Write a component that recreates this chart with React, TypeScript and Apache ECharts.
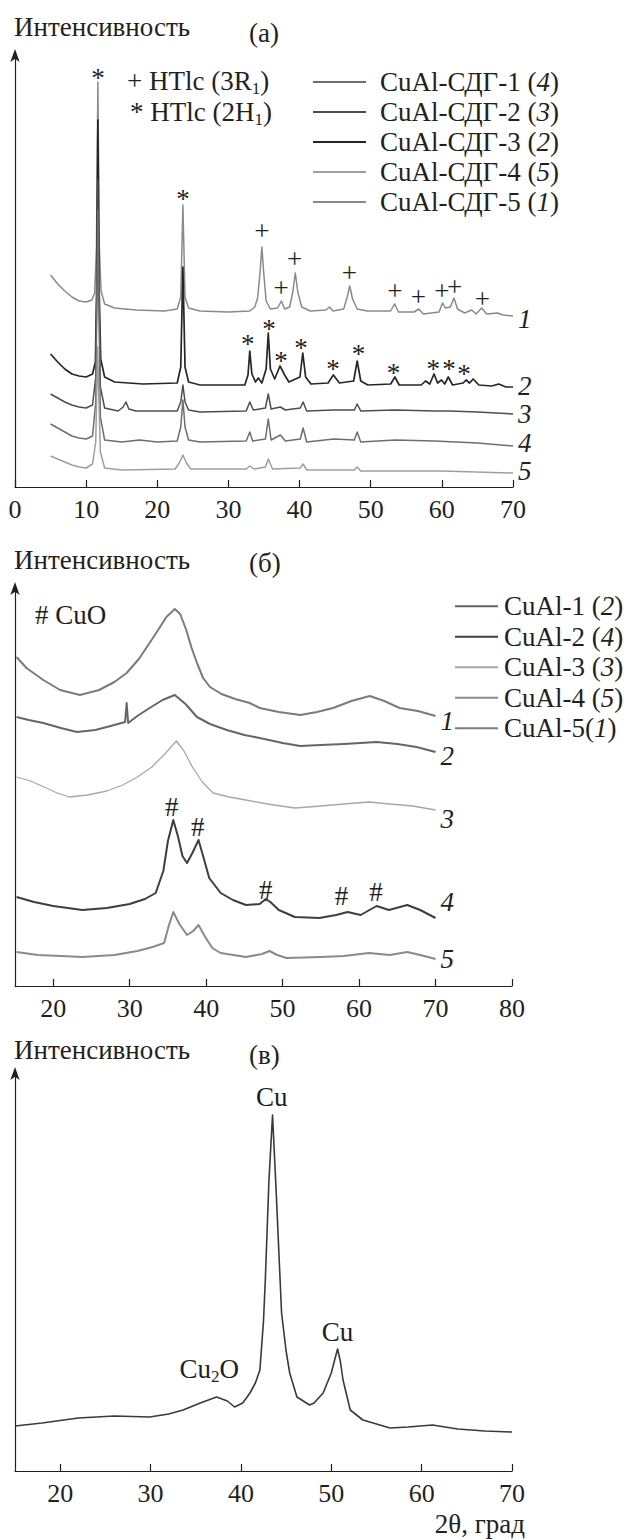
import React, { useEffect, useRef } from "react";
import * as echarts from "echarts";

const FONT = "'Liberation Serif', 'Times New Roman', serif";
const INK = "#231f20";

// ---------- Panel (a): CuAl-СДГ, 2θ vs intensity ----------
const aTicks = [0, 10, 20, 30, 40, 50, 60, 70];
const aCurve1: number[][] = [[5,212],[6,203],[7,196],[8,190],[9,186],[10,185],[10.8,187],[11.2,194],[11.45,240],[11.65,405],[11.85,240],[12.1,196],[12.6,183],[14,179],[17,177],[21,176],[22.8,178],[23.3,190],[23.6,282],[23.9,190],[24.4,179],[26,176],[30,175],[33,176],[33.7,180],[34.1,189],[34.45,215],[34.7,240],[34.95,215],[35.3,186],[35.9,178],[36.9,179],[37.45,186],[37.9,178],[38.6,180],[39.05,195],[39.4,214],[39.75,195],[40.3,180],[41.5,176],[43.7,177],[44.2,180],[44.7,176],[46.2,178],[46.7,190],[47.05,201],[47.45,188],[48.1,178],[49.5,176],[52.8,176],[53.35,183],[53.9,175],[56.1,175],[56.75,178],[57.4,173],[59.6,175],[60.1,184],[60.5,179],[61.2,180],[61.7,189],[62.2,178],[63.2,174],[64.2,177],[64.8,173],[65.6,179],[66.3,173],[67.8,174],[68.6,172],[70,171]];
const aCurve2: number[][] = [[5,133],[6,125],[7,118],[8,113],[9,111],[10,110],[10.9,113],[11.3,125],[11.48,200],[11.65,367],[11.82,200],[12.05,128],[12.6,110],[14,105],[18,103],[22.8,104],[23.3,120],[23.6,220],[23.9,120],[24.4,105],[26,102],[32.3,102],[32.75,112],[33.0,136],[33.3,113],[33.8,105],[34.2,109],[34.7,104],[35.3,118],[35.6,154],[35.9,118],[36.5,108],[37.25,121],[37.9,112],[38.5,105],[40.05,110],[40.45,134],[40.85,110],[41.6,103],[44.0,104],[44.75,112],[45.6,104],[47.6,106],[48.1,126],[48.6,106],[49.6,102],[52.8,103],[53.4,110],[54,102],[57.1,102],[57.7,106],[58.3,103],[58.9,113],[59.4,104],[59.95,107],[60.4,103],[60.9,110],[61.5,102],[63.0,104],[63.4,107],[63.9,104],[64.4,108],[65.2,102],[67,101],[68,103],[69,100],[70,100]];
const aCurve3: number[][] = [[5,93],[6,89],[7,85],[8,82],[9,80],[10,79],[10.9,82],[11.35,110],[11.5,200],[11.65,307],[11.8,200],[12.0,100],[12.6,79],[14.5,76],[15.2,80],[15.6,85],[16.0,78],[17,76],[22.8,76],[23.3,85],[23.6,102],[23.9,85],[24.4,77],[26,75],[32.5,76],[33.0,85],[33.5,77],[35.2,79],[35.6,93],[36.0,78],[37.3,80],[38,77],[40.1,79],[40.5,85],[41,76],[44.8,77],[47.7,77],[48.1,83],[48.6,76],[53.4,77],[59,76],[61,76],[65,75],[70,73]];
const aCurve4: number[][] = [[5,63],[6,59],[7,55],[8,51],[9,49],[10,48],[10.9,51],[11.35,85],[11.5,180],[11.65,277],[11.8,180],[12.0,70],[12.6,47],[15,45],[17.5,47],[20,45],[22.8,46],[23.3,60],[23.6,87],[23.9,60],[24.4,47],[26,45],[32.5,46],[33.0,55],[33.4,46],[35.2,48],[35.6,68],[36.0,47],[37.3,52],[38,46],[40.1,48],[40.5,59],[41,45],[44.8,48],[47.7,47],[48.1,55],[48.6,45],[53.4,47],[59,46],[65,44],[70,41]];
const aCurve5: number[][] = [[5,31],[6,28],[7,25],[8,22],[9,20],[10,19],[10.9,23],[11.35,45],[11.5,100],[11.62,140],[11.75,100],[12.0,35],[12.6,19],[15,17],[22.5,18],[23.1,24],[23.6,32],[24.1,24],[24.7,18],[32.5,18],[33.0,21],[33.6,18],[35.2,20],[35.6,28],[36.2,18],[40.1,19],[40.5,23],[41,17],[47.7,17],[48.1,20],[48.6,16],[60,16],[70,14]];
const aNames = ["CuAl-СДГ-5 (1)", "CuAl-СДГ-3 (2)", "CuAl-СДГ-2 (3)", "CuAl-СДГ-1 (4)", "CuAl-СДГ-4 (5)"];
const aLegendOrder = ["CuAl-СДГ-1 (4)", "CuAl-СДГ-2 (3)", "CuAl-СДГ-3 (2)", "CuAl-СДГ-4 (5)", "CuAl-СДГ-5 (1)"];
const aCurveLabels = ["1", "2", "3", "4", "5"];
const aPlusMarks: number[][] = [[34.7,254],[37.4,197],[39.3,226],[47.0,212],[53.4,194],[56.7,188],[60.0,194],[61.8,198],[65.7,186]];
const aStarMarks: number[][] = [[11.65,415],[23.6,294],[32.7,149],[35.7,164],[37.4,132],[40.2,145],[44.7,124],[48.3,139],[53.2,120],[58.8,124],[61.0,124],[63.1,119]];

// ---------- Panel (б): CuAl ----------
const bTicks = [20, 30, 40, 50, 60, 70, 80];
const bCurve1: number[][] = [[15.2,329],[16.5,318],[18.7,306],[20.9,296],[23.5,291],[26,296],[28,304],[29.6,313],[31.2,327],[32.6,343],[33.8,357],[34.8,369],[35.9,377],[36.6,372],[37.4,356],[38.1,338],[38.8,323],[39.6,308],[40.5,299],[42,292],[43.8,287],[45.7,283],[47.0,278],[49.5,274],[52.3,271],[54.5,274],[56.6,278],[59,285],[61.4,290],[63.3,285],[65.3,278],[67.7,275],[70,270]];
const bCurve2: number[][] = [[15.2,269],[16.8,266],[18.7,263],[21,258],[23.1,254],[25.5,256],[27.5,260],[29.4,264],[29.6,283],[29.8,263],[31,270],[32.6,278],[34.3,286],[35.9,291],[37.3,282],[38.8,269],[40.5,262],[42.7,256],[45,251],[47,248],[50,243],[52.3,240],[55,241],[58,242],[62.3,244],[65,242],[67.5,239],[70,234]];
const bCurve3: number[][] = [[15.2,209],[17,205],[18.8,199],[20.5,193],[22.1,189],[24.5,191],[27,195],[29.1,201],[31,209],[32.9,219],[34.6,232],[36.1,245],[37.1,235],[38.2,219],[39.5,204],[40.9,193],[43,189],[45.2,186],[48,182],[51.6,178],[55,180],[58,182],[61.3,184],[64,182],[67,180],[70,176]];
const bCurve4: number[][] = [[15.2,89],[17.5,84],[20,80],[23.8,76],[27,78],[30,82],[32,87],[33.4,93],[34.4,115],[35.0,145],[35.7,166],[36.3,150],[36.9,130],[37.5,123],[38.2,133],[39.0,146],[39.6,130],[40.4,108],[41.9,93],[43.5,86],[45.2,81],[47,82],[47.8,87],[48.4,84],[49.5,76],[51.6,69],[54.8,68],[57,71],[58.5,74],[60.2,71],[62.3,80],[63.9,76],[66.3,81],[68,76],[70,68]];
const bCurve5: number[][] = [[15.2,34],[18,31],[21,30],[23.8,29],[28,31],[31,35],[33,39],[34.5,43],[35.1,60],[35.7,74],[36.5,62],[37.5,51],[38.3,55],[39.0,61],[39.8,50],[40.8,38],[41.9,33],[45.2,29],[47.3,32],[48.3,35],[49.3,31],[50.5,28],[55,29],[58,30],[61.3,33],[64,31],[66.3,34],[68,31],[70,27]];
const bNames = ["CuAl-5(1)", "CuAl-1 (2)", "CuAl-3 (3)", "CuAl-2 (4)", "CuAl-4 (5)"];
const bLegendOrder = ["CuAl-1 (2)", "CuAl-2 (4)", "CuAl-3 (3)", "CuAl-4 (5)", "CuAl-5(1)"];
const bCurveLabels = ["1", "2", "3", "4", "5"];
const bHashMarks: number[][] = [[35.5,179],[38.9,159],[47.8,96],[57.7,90],[62.2,94]];

// ---------- Panel (в) ----------
const cTicks = [20, 30, 40, 50, 60, 70];
const cCurve: number[][] = [[15,45],[18,48],[22,53],[26,55],[29.9,54],[32,57],[33.6,61],[35.5,68],[37.3,74],[38.5,70],[39.3,64],[40.2,68],[41.0,78],[41.6,88],[42.1,101],[42.5,150],[42.7,191],[43.1,290],[43.5,356],[43.9,280],[44.5,158],[45.0,120],[45.4,98],[46.2,74],[47.6,66],[48.1,68],[49.1,78],[50.0,98],[50.4,112],[50.7,122],[51.0,110],[51.3,91],[52.1,61],[53.5,51],[56.5,43],[58.5,44],[61.2,46],[64,42],[67,40],[70,39]];
const cPeakMarks = [
  { value: [43.4, 373], text: "{n|Cu}" },
  { value: [50.7, 138], text: "{n|Cu}" },
  { value: [36.5, 101], text: "{n|Cu}{s|2}{n|O}" },
];

// styling (not data)
const aColors = ["#8a8a8a", "#262626", "#4d4d4d", "#6e6e6e", "#9e9e9e"];
const aLabelOffsets = [4, 0, 1, -2, -1];
const bColors = ["#7b7b7b", "#666666", "#a8a8a8", "#3e3e3e", "#8a8a8a"];
const bLabelOffsets = [6, 5, 10, -15, 1];

const richText = {
  n: { fontSize: 27, fontFamily: FONT, color: INK, verticalAlign: "bottom", padding: [0, 0, 2, 0] },
  s: { fontSize: 17, fontFamily: FONT, color: INK, verticalAlign: "bottom" },
  i: { fontSize: 27, fontFamily: FONT, color: INK, fontStyle: "italic", verticalAlign: "bottom", padding: [0, 0, 2, 0] },
  m: { fontSize: 27, fontFamily: FONT, color: INK },
  t: { fontSize: 26, fontFamily: FONT, color: INK },
};

function legendFormatter(name: string) {
  const m = name.match(/^(.*\()(\d)(\))$/);
  if (!m) return name;
  return `{n|${m[1]}}{i|${m[2]}}{n|${m[3]}}`;
}

function curve(name: string, data: number[][], color: string, idx: number, label?: string, offY = 0, width = 1.4) {
  return {
    type: "line",
    name,
    data,
    xAxisIndex: idx,
    yAxisIndex: idx,
    symbol: "none",
    showSymbol: false,
    color,
    lineStyle: { color, width, join: "round" },
    itemStyle: { color },
    silent: true,
    emphasis: { disabled: true },
    endLabel: label
      ? {
          show: true,
          formatter: `{i|${label}}`,
          rich: richText,
          fontFamily: FONT,
          fontStyle: "italic",
          fontSize: 27,
          color: INK,
          distance: 5,
          offset: [0, offY],
        }
      : { show: false },
  };
}

function marks(idx: number, data: any[], text: string | null, offY: number) {
  return {
    type: "scatter",
    xAxisIndex: idx,
    yAxisIndex: idx,
    data,
    symbolSize: 1,
    itemStyle: { color: INK, opacity: 0.001 },
    silent: true,
    z: 5,
    label: {
      show: true,
      position: "inside",
      formatter: text !== null ? `{m|${text}}` : (p: any) => p.data.text,
      fontSize: 27,
      fontFamily: FONT,
      color: INK,
      opacity: 1,
      textBorderWidth: 0,
      offset: [0, offY],
      rich: richText,
    },
  };
}

function xAxis(idx: number, min: number, max: number, ticks: number[]) {
  return {
    type: "value",
    gridIndex: idx,
    min,
    max,
    interval: 10,
    axisLine: { show: true, onZero: false, lineStyle: { color: INK, width: 1.2 } },
    axisTick: { show: true, inside: true, length: 7, customValues: ticks, lineStyle: { color: INK, width: 1.2 } },
    axisLabel: {
      show: true,
      customValues: ticks,
      formatter: (v: number) => `{t|${v}}`,
      rich: richText,
      fontSize: 26,
      fontFamily: FONT,
      color: INK,
      margin: 9,
    },
    splitLine: { show: false },
  };
}

function yAxis(idx: number, max: number) {
  return {
    type: "value",
    gridIndex: idx,
    min: 0,
    max,
    axisLine: { show: true, onZero: false, symbol: ["none", "arrow"], symbolSize: [7, 13], symbolOffset: [0, 6], lineStyle: { color: INK, width: 1.2 } },
    axisTick: { show: false },
    axisLabel: { show: false },
    splitLine: { show: false },
  };
}

function txt(text: string, x: number, y: number, extra: any = {}) {
  return {
    type: "text",
    x,
    y,
    silent: true,
    style: {
      text,
      font: `27px ${FONT}`,
      fontSize: 27,
      fontFamily: FONT,
      fill: INK,
      align: "left",
      verticalAlign: "middle",
      rich: richText,
      ...extra,
    },
  };
}

export default function App() {
  const ref = useRef<HTMLDivElement>(null);
  useEffect(() => {
    if (!ref.current) return;
    const chart = echarts.init(ref.current, undefined, { renderer: "svg" });
    const aSeries = [aCurve1, aCurve2, aCurve3, aCurve4, aCurve5].map((d, i) =>
      curve(aNames[i], d, aColors[i], 0, aCurveLabels[i], aLabelOffsets[i], i === 1 ? 1.7 : 1.5)
    );
    const bSeries = [bCurve1, bCurve2, bCurve3, bCurve4, bCurve5].map((d, i) =>
      curve(bNames[i], d, bColors[i], 1, bCurveLabels[i], bLabelOffsets[i], i === 2 ? 1.3 : 2)
    );
    const legendText = (lh: number) => ({
      fontSize: 27,
      fontFamily: FONT,
      color: INK,
      lineHeight: lh,
      rich: {
        n: { fontSize: 27, fontFamily: FONT, color: INK, lineHeight: lh },
        i: { fontSize: 27, fontFamily: FONT, color: INK, fontStyle: "italic", lineHeight: lh },
      },
    });
    chart.setOption({
      animation: false,
      backgroundColor: "#ffffff",
      textStyle: { fontFamily: FONT },
      grid: [
        { left: 15, top: 55, width: 498, height: 432 },
        { left: 15, top: 588, width: 497, height: 398 },
        { left: 15, top: 1073, width: 497, height: 398 },
      ],
      xAxis: [xAxis(0, 0, 70, aTicks), xAxis(1, 15, 80, bTicks), xAxis(2, 15, 70, cTicks)],
      yAxis: [yAxis(0, 432), yAxis(1, 398), yAxis(2, 398)],
      legend: [
        {
          data: aLegendOrder,
          orient: "vertical",
          left: 313,
          top: 67,
          icon: "rect",
          itemWidth: 53,
          itemHeight: 2,
          itemGap: 0,
          padding: 0,
          selectedMode: false,
          formatter: legendFormatter,
          textStyle: { ...legendText(30), padding: [0, 0, 0, 9] },
        },
        {
          data: bLegendOrder,
          orient: "vertical",
          left: 455,
          top: 591,
          icon: "rect",
          itemWidth: 43,
          itemHeight: 2,
          itemGap: 0,
          padding: 0,
          selectedMode: false,
          formatter: legendFormatter,
          textStyle: { ...legendText(30.5), padding: [0, 0, 0, 1] },
        },
      ],
      series: [
        ...aSeries,
        ...bSeries,
        curve("CuAl-восст.", cCurve, "#3a3a3a", 2, undefined, 0, 1.6),
        marks(0, aPlusMarks, "+", -2),
        marks(0, aStarMarks, "*", 6),
        marks(1, bHashMarks, "#", 0),
        marks(2, cPeakMarks, null, 0),
      ],
      graphic: [
        txt("{m|Интенсивность}", 14, 27),
        txt("{m|(а)}", 249, 33),
        txt("{n|+ HTlc (3R}{s|1}{n|)}", 127, 82),
        txt("{n|* HTlc (2H}{s|1}{n|)}", 130, 113),
        txt("{m|Интенсивность}", 14, 560),
        txt("{m|(б)}", 249, 563),
        txt("{m|# CuO}", 35, 615),
        txt("{m|Интенсивность}", 14, 1050),
        txt("{m|(в)}", 249, 1055),
        txt("{m|2θ, град}", 525, 1524, { align: "right" }),
      ],
    });
    return () => chart.dispose();
  }, []);
  return (
    <div
      ref={ref}
      style={{ position: "absolute", left: 0, top: 0, width: 644, height: 1539, background: "#fff" }}
    />
  );
}
